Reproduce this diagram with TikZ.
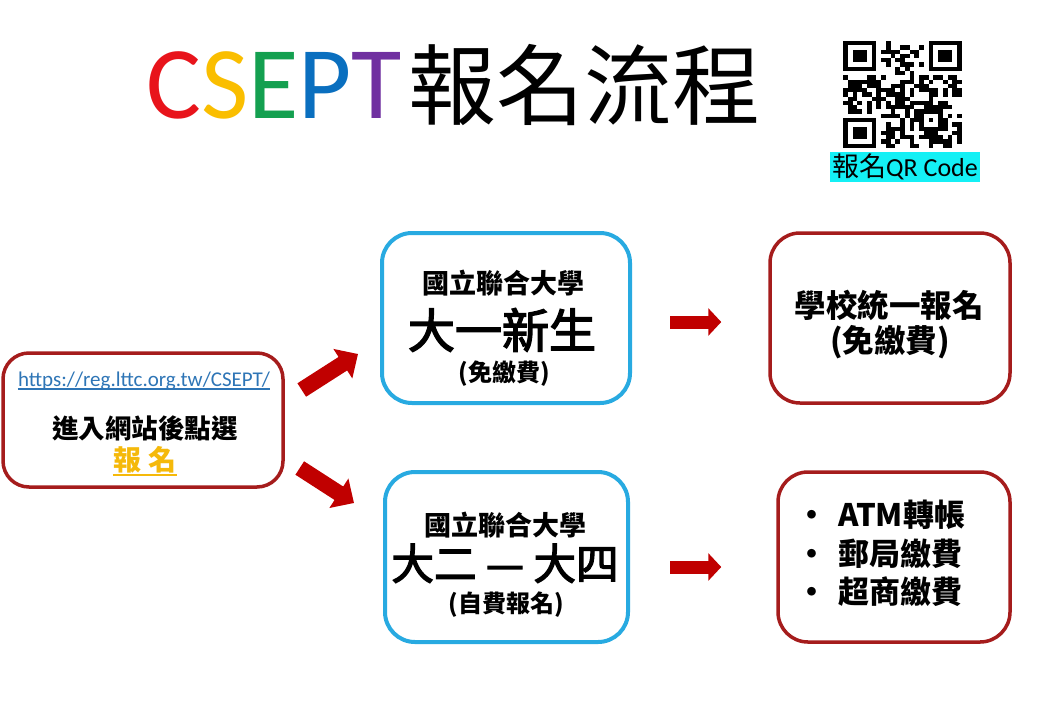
\documentclass[tikz,border=0pt]{standalone}
\usepackage{fontspec}
\setmainfont{Noto Sans CJK TC}
\newfontfamily\latinfont{Carlito}
\newfontfamily\mediumcjk{Noto Sans CJK TC}[FakeBold=3]
\usetikzlibrary{arrows.meta,calc}

\definecolor{csred}{RGB}{232,20,27}
\definecolor{csyel}{RGB}{250,190,0}
\definecolor{csgreen}{RGB}{20,160,80}
\definecolor{csblue}{RGB}{10,111,191}
\definecolor{cspurple}{RGB}{112,48,160}
\definecolor{boxred}{RGB}{165,28,28}
\definecolor{boxcyan}{RGB}{40,170,225}
\definecolor{arrowred}{RGB}{192,0,0}
\definecolor{urlblue}{RGB}{46,117,182}
\definecolor{gold}{RGB}{245,185,10}
\definecolor{qrcyan}{RGB}{20,240,245}

\newcommand{\fsz}[1]{\fontsize{#1}{#1}\selectfont}

\tikzset{
    flowbox/.style={fill=white, line width=3.5pt, rounded corners=26pt, inner sep=0pt},
    boxtext/.style={inner sep=0pt, anchor=base},
    bigarrow/.style={draw=arrowred, line width=16pt, -{Triangle[width=34pt,length=18pt]}},
    smallarrow/.style={draw=arrowred, line width=13pt, -{Triangle[width=27pt,length=13pt]}},
}

\begin{document}
\begin{tikzpicture}[x=1pt, y=-1pt]
    \fill[white] (0,0) rectangle (1040,720);
    \useasboundingbox (0,0) rectangle (1040,720);

    % title
    \node[boxtext, anchor=base west] (title) at (146,118)
        {{\latinfont\fsz{103}\textcolor{csred}{C}\textcolor{csyel}{S}\textcolor{csgreen}{E}\textcolor{csblue}{P}\textcolor{cspurple}{T}}\hspace{6pt}{\fsz{88}報名流程}};

    % QR code
    \begin{scope}[shift={(843,41)}, x=4.76pt, y=-4.28pt]
        \pgfmathsetseed{11}
        \foreach \i in {0,...,24}{
            \foreach \j in {0,...,24}{
                \pgfmathtruncatemacro{\dark}{((\i<8 && \j<8) || (\i>16 && \j<8) || (\i<8 && \j>16) || (\i>15 && \i<21 && \j>15 && \j<21)) ? 0 : (rnd<0.5)}
                \ifnum\dark=1 \fill (\i,\j) rectangle ++(1,1); \fi
            }
        }
        \foreach \fx/\fy in {0/0,18/0,0/18}{
            \fill (\fx,\fy) rectangle ++(7,7);
            \fill[white] (\fx+1,\fy+1) rectangle ++(5,5);
            \fill (\fx+2,\fy+2) rectangle ++(3,3);
        }
        \fill (16,16) rectangle ++(5,5);
        \fill[white] (17,17) rectangle ++(3,3);
        \fill (18,18) rectangle ++(1,1);
    \end{scope}
    \node[fill=qrcyan, inner sep=0pt, minimum width=150pt, minimum height=30pt] (qrlabel) at (905,166.5)
        {{\fsz{27}報名}{\latinfont\fsz{26}QR Code}};

    % boxes
    \node[flowbox, draw=boxred, minimum width=280pt, minimum height=134pt] (enter) at (143,420) {};
    \node[flowbox, draw=boxcyan, line width=4pt, rounded corners=30pt, minimum width=248pt, minimum height=170pt] (fresh) at (506,318) {};
    \node[flowbox, draw=boxred, rounded corners=30pt, minimum width=240pt, minimum height=170pt] (free) at (890,318) {};
    \node[flowbox, draw=boxcyan, line width=4pt, rounded corners=30pt, minimum width=243pt, minimum height=170pt] (senior) at (506.5,557) {};
    \node[flowbox, draw=boxred, rounded corners=30pt, minimum width=232pt, minimum height=170pt] (pay) at (894,557) {};

    % left box text
    \node[boxtext, text=urlblue, font=\latinfont\fsz{21}] (url) at (144,386) {https://reg.lttc.org.tw/CSEPT/};
    \draw[urlblue, line width=1.2pt] ([yshift=-3pt]url.base west) -- ([yshift=-3pt]url.base east);
    \node[boxtext, font=\bfseries\fsz{26.5}] (visit) at (145,438) {進入網站後點選};
    \node[boxtext, text=gold, font=\bfseries\fsz{28}] (signup) at (145,470.5) {報\hspace{8pt}名};
    \draw[gold, line width=1.8pt] ([yshift=-4.5pt]signup.base west) -- ([yshift=-4.5pt]signup.base east);

    % first year
    \node[boxtext, font=\bfseries\fsz{27}] (fresh-uni) at (503,293) {國立聯合大學};
    \node[boxtext, font=\mediumcjk\fsz{47}] (fresh-year) at (502,348) {大一新生};
    \node[boxtext, font=\bfseries\fsz{24}] (fresh-fee) at (504,381) {(免繳費)};

    \node[boxtext, font=\bfseries\fsz{31.5}] (free-1) at (889,317) {學校統一報名};
    \node[boxtext, font=\bfseries\fsz{31.5}] (free-2) at (890,352) {(免繳費)};

    % second to fourth year
    \node[boxtext, font=\bfseries\fsz{27}] (senior-uni) at (505,535) {國立聯合大學};
    \node[boxtext, font=\mediumcjk\fsz{42.5}] (senior-year) at (505,579.5) {大二 — 大四};
    \node[boxtext, font=\bfseries\fsz{24}] (senior-fee) at (506,612) {(自費報名)};

    \foreach \t [count=\k] in {ATM轉帳,郵局繳費,超商繳費}
        \node[boxtext, anchor=base west, font=\bfseries\fsz{31}] (pay-\k) at (812,488.3+38.5*\k) {\makebox[0pt]{•}\hspace{26pt}\t};

    % arrows
    \draw[bigarrow] ([shift={(17,-30)}]enter.east) -- ([shift={(-22,36)}]fresh.west);
    \draw[bigarrow] ([shift={(15,48)}]enter.east) -- ([shift={(-29,-54)}]senior.west);
    \draw[smallarrow, shorten <=38pt, shorten >=47pt] ([yshift=-4pt]fresh.east) -- ([yshift=-4pt]free.west);
    \draw[smallarrow, shorten <=40pt, shorten >=55pt] ([yshift=-10pt]senior.east) -- ([yshift=-10pt]pay.west);
\end{tikzpicture}
\end{document}
